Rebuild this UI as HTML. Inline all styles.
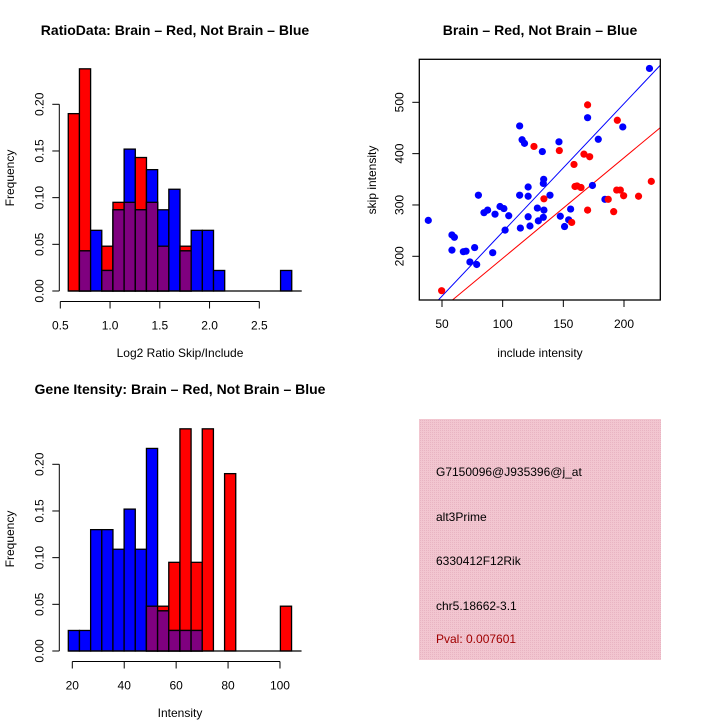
<!DOCTYPE html>
<html><head><meta charset="utf-8"><style>
html,body{margin:0;padding:0;background:#fff}
svg{display:block;font-family:"Liberation Sans",Arial,sans-serif}
</style></head><body>
<svg id="c" width="720" height="720" viewBox="0 0 720 720" xmlns="http://www.w3.org/2000/svg">
<defs>
<pattern id="pk" width="2" height="2" patternUnits="userSpaceOnUse"><rect width="2" height="2" fill="#f2c6d0"/><rect width="1" height="1" fill="#e8b4c2"/></pattern>
</defs>
<text x="175" y="35" text-anchor="middle" font-size="14" font-weight="bold">RatioData: Brain – Red, Not Brain – Blue</text>
<text x="540" y="35" text-anchor="middle" font-size="14" font-weight="bold">Brain – Red, Not Brain – Blue</text>
<text x="180" y="394" text-anchor="middle" font-size="14" font-weight="bold">Gene Itensity: Brain – Red, Not Brain – Blue</text>
<text x="180" y="357" text-anchor="middle" font-size="12">Log2 Ratio Skip/Include</text>
<text x="180" y="717" text-anchor="middle" font-size="12">Intensity</text>
<text x="540" y="357" text-anchor="middle" font-size="12">include intensity</text>
<text transform="translate(14,178) rotate(-90)" text-anchor="middle" font-size="12">Frequency</text>
<text transform="translate(14,539) rotate(-90)" text-anchor="middle" font-size="12">Frequency</text>
<text transform="translate(376,180) rotate(-90)" text-anchor="middle" font-size="12">skip intensity</text>
<g id="h1"></g>
<g id="h2"></g>
<g id="sc"></g>
<rect x="419" y="419" width="242" height="241" fill="url(#pk)"/>
<g font-size="12">
<text x="436" y="476">G7150096@J935396@j_at</text>
<text x="436" y="521">alt3Prime</text>
<text x="436" y="565">6330412F12Rik</text>
<text x="436" y="610">chr5.18662-3.1</text>
<text x="436" y="643" fill="#a00000">Pval: 0.007601</text>
</g>
</svg>
<script>
const ratioRed=[0.190,0.238,0,0.048,0.095,0.095,0.143,0.095,0.048,0,0.048,0,0,0,0,0,0,0,0,0];
const ratioBlue=[0,0.043,0.065,0.022,0.087,0.152,0.087,0.130,0.087,0.109,0.043,0.065,0.065,0.022,0,0,0,0,0,0.022];
const ratioTicks=[0.5,1.0,1.5,2.0,2.5];
const ratioStart=0.58, ratioBin=0.1123;
const intRed=[0,0,0,0,0,0,0,0.048,0.048,0.095,0.238,0.095,0.238,0,0.190,0,0,0,0,0.048];
const intBlue=[0.022,0.022,0.130,0.130,0.109,0.152,0.109,0.217,0.043,0.022,0.022,0.022,0,0,0,0,0,0,0,0];
const intTicks=[20,40,60,80,100];
const intStart=18.46, intBin=4.3;
const freqTicks=[0,0.05,0.10,0.15,0.20];
const blueX=[38.7,58.2,60.2,58.2,67.6,69.8,76.9,73,78.6,80,84.6,87.6,93.7,97.8,101,105,102,91.8,114,116,118,114,121,121,121,122.5,128.6,129.4,132.7,133.8,133.5,134,133.5,139,114.6,146.4,147.5,151,154.4,156,170,174,178.8,184.3,199,221];
const blueY=[270,241.6,237,212,209,210,217,189,184,319,285,290,282,297,293,279,251,207,454,427,420,319,317,335,277,259,294,269,404,350,342,290,276,319,255,423,278,258,271,292,470,338,428,311,452,566];
const redX=[49.7,125.8,146.7,134,170,158.8,167,171.7,159.6,161.3,164.6,156.9,170,187,191.5,194.5,194,197,199.7,212,222.5];
const redY=[133,414,406,312,495,379,399,394,336,337,334,266,290,311,287,465,329,329,318,317,346];
const blueFit=[-2.6,2.5], redFit=[0,1.96];
const scXTicks=[50,100,150,200], scYTicks=[200,300,400,500];
const NS="http://www.w3.org/2000/svg";
function mk(p,t,a){const e=document.createElementNS(NS,t);for(const k in a)e.setAttribute(k,a[k]);p.appendChild(e);return e;}
function hist(gid,red,blue,start,bin,xs,xticks,fmt,y0,px0){
  const g=document.getElementById(gid);
  const xToPx=v=>xs.p0+(v-xs.v0)*xs.k;
  const yToPx=v=>y0-v*933.5;
  for(let i=0;i<red.length;i++){
    const x1=xToPx(start+i*bin),x2=xToPx(start+(i+1)*bin);
    const r=red[i],b=blue[i],m=Math.min(r,b);
    if(r>0){const e=mk(g,'rect',{x:x1,y:yToPx(r),width:x2-x1,height:y0-yToPx(r),fill:'#ff0000',stroke:'#000','stroke-width':1.3});
      }
    if(b>0){const e=mk(g,'rect',{x:x1,y:yToPx(b),width:x2-x1,height:y0-yToPx(b),fill:'#0000ff',stroke:'#000','stroke-width':1.3});
      }
    if(m>0){const e=mk(g,'rect',{x:x1,y:yToPx(m),width:x2-x1,height:y0-yToPx(m),fill:'#7f007f',stroke:'#000','stroke-width':1.3});
      }
  }
  mk(g,'line',{x1:xToPx(start),x2:xToPx(start+red.length*bin)+10,y1:y0,y2:y0,stroke:'#000','stroke-width':1.3});
  // y axis
  mk(g,'line',{x1:px0,x2:px0,y1:yToPx(0),y2:yToPx(0.2),stroke:'#000','stroke-width':1});
  freqTicks.forEach(v=>{mk(g,'line',{x1:px0-7,x2:px0,y1:yToPx(v),y2:yToPx(v),stroke:'#000'});
    const t=mk(g,'text',{transform:`translate(${px0-16},${yToPx(v)}) rotate(-90)`,'text-anchor':'middle','font-size':12});t.textContent=v.toFixed(2);
    });
  const ax=y0+10.5;
  mk(g,'line',{x1:xToPx(xticks[0]),x2:xToPx(xticks[xticks.length-1]),y1:ax,y2:ax,stroke:'#000'});
  xticks.forEach(v=>{mk(g,'line',{x1:xToPx(v),x2:xToPx(v),y1:ax,y2:ax+7,stroke:'#000'});
    const t=mk(g,'text',{x:xToPx(v),y:ax+28,'text-anchor':'middle','font-size':12});t.textContent=fmt(v);
    });
}
hist('h1',ratioRed,ratioBlue,ratioStart,ratioBin,{p0:60.3,v0:0.5,k:99.5},ratioTicks,v=>v.toFixed(1),291,59.3);
hist('h2',intRed,intBlue,intStart,intBin,{p0:72.3,v0:20,k:2.596},intTicks,v=>String(v),651,59.3);
(function(){
  const g=document.getElementById('sc');
  const X=v=>442+(v-50)*1.2133, Y=v=>256.3-(v-200)*0.5133;
  const L=419.3,R=660.3,T=59.3,B=300;
  const clip=mk(g,'clipPath',{id:'scclip'});mk(clip,'rect',{x:L,y:T,width:R-L,height:B-T});
  [[blueFit,'#0000ff','blue-fit-line'],[redFit,'#ff0000','red-fit-line']].forEach(([f,c,n])=>{
    const e=mk(g,'line',{x1:X(20),y1:Y(f[0]+f[1]*20),x2:X(260),y2:Y(f[0]+f[1]*260),stroke:c,'stroke-width':1,'clip-path':'url(#scclip)'});
    });
  blueX.forEach((v,i)=>{const e=mk(g,'circle',{cx:X(v),cy:Y(blueY[i]),r:3.6,fill:'#0000ff'});
    });
  redX.forEach((v,i)=>{const e=mk(g,'circle',{cx:X(v),cy:Y(redY[i]),r:3.6,fill:'#ff0000'});
    });
  mk(g,'rect',{x:L,y:T,width:R-L,height:B-T,fill:'none',stroke:'#000','stroke-width':1.3});
  scXTicks.forEach(v=>{mk(g,'line',{x1:X(v),x2:X(v),y1:B,y2:B+7,stroke:'#000'});
    const t=mk(g,'text',{x:X(v),y:B+28,'text-anchor':'middle','font-size':12});t.textContent=v;
    });
  scYTicks.forEach(v=>{mk(g,'line',{x1:L-7,x2:L,y1:Y(v),y2:Y(v),stroke:'#000'});
    const t=mk(g,'text',{transform:`translate(${L-16},${Y(v)}) rotate(-90)`,'text-anchor':'middle','font-size':12});t.textContent=v;
    });
})();
</script>
</body></html>
